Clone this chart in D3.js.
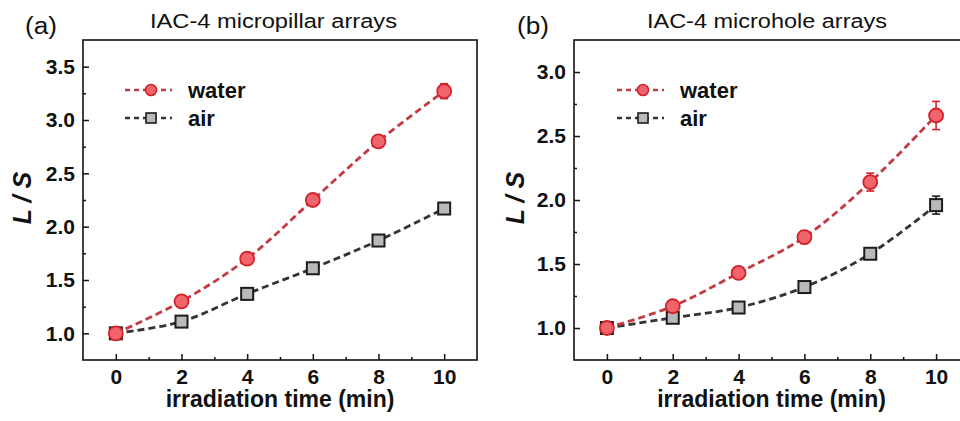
<!DOCTYPE html>
<html>
<head>
	<title>L/S vs irradiation time</title>
	<meta charset="utf-8"/>
	<script src="https://cdn.jsdelivr.net/npm/d3@7/dist/d3.min.js"></script>
	<style type="text/css">
		body { margin: 0; background: #fff; }
		svg { display: block; font-family: "Liberation Sans", Arial, sans-serif; }
	</style>
</head>
<body>
	<svg id="chart" width="960" height="421"></svg>
	<script type="text/javascript">

		// data
		var timeMin = [0, 2, 4, 6, 8, 10];

		var pillarWater    = [1.00, 1.30, 1.70, 2.25, 2.80, 3.27];
		var pillarWaterErr = [0.02, 0.02, 0.02, 0.02, 0.02, 0.07];
		var pillarAir      = [1.00, 1.11, 1.37, 1.61, 1.87, 2.17];
		var pillarAirErr   = [0.01, 0.02, 0.03, 0.02, 0.02, 0.02];

		var holeWater    = [1.00, 1.17, 1.43, 1.71, 2.14, 2.66];
		var holeWaterErr = [0.01, 0.02, 0.03, 0.05, 0.07, 0.11];
		var holeAir      = [1.00, 1.08, 1.16, 1.32, 1.58, 1.96];
		var holeAirErr   = [0.01, 0.01, 0.01, 0.02, 0.03, 0.07];

		var xTicks = [0, 2, 4, 6, 8, 10];
		var xMinor = [1, 3, 5, 7, 9];
		var pillarYTicks = [1.0, 1.5, 2.0, 2.5, 3.0, 3.5];
		var pillarYMinor = [1.25, 1.75, 2.25, 2.75, 3.25];
		var holeYTicks = [1.0, 1.5, 2.0, 2.5, 3.0];
		var holeYMinor = [1.25, 1.75, 2.25, 2.75];

		var seriesNames = ["water", "air"];

		var redLine = "#c43a42", redFill = "#f2646b", redStroke = "#d4222b";
		var greyLine = "#333333", greyFill = "#b9b9b9", greyStroke = "#1c1c1c";

		var svg = d3.select("#chart");

		drawPanel({
			left: 83, right: 477, top: 40, bottom: 360,
			yDomain: [0.75, 3.75], yTicks: pillarYTicks, yMinor: pillarYMinor,
			water: pillarWater, waterErr: pillarWaterErr,
			air: pillarAir, airErr: pillarAirErr,
			letter: "(a)", letterX: 25, title: "IAC-4 micropillar arrays", titleX: 150, titleLen: 247,
			yLabelX: 23, legendX: 125
		});

		drawPanel({
			left: 574, right: 969, top: 40, bottom: 360,
			yDomain: [0.75, 3.25], yTicks: holeYTicks, yMinor: holeYMinor,
			water: holeWater, waterErr: holeWaterErr,
			air: holeAir, airErr: holeAirErr,
			letter: "(b)", letterX: 517, title: "IAC-4 microhole arrays", titleX: 647, titleLen: 240,
			yLabelX: 516, legendX: 617
		});

		function drawPanel(p) {
			var x = d3.scaleLinear().domain([-1, 11]).range([p.left, p.right]);
			var y = d3.scaleLinear().domain(p.yDomain).range([p.bottom, p.top]);
			var g = svg.append("g");

			// inward ticks, major and minor
			g.append("g")
				.attr("transform", "translate(0," + p.bottom + ")")
				.call(d3.axisBottom(x).tickValues(xTicks).tickSize(-6).tickPadding(9).tickFormat(d3.format("d")));
			g.append("g")
				.attr("transform", "translate(0," + p.bottom + ")")
				.call(d3.axisBottom(x).tickValues(xMinor).tickSize(-3).tickFormat(""));
			g.append("g")
				.attr("transform", "translate(" + p.left + ",0)")
				.call(d3.axisLeft(y).tickValues(p.yTicks).tickSize(-6).tickPadding(8).tickFormat(d3.format(".1f")));
			g.append("g")
				.attr("transform", "translate(" + p.left + ",0)")
				.call(d3.axisLeft(y).tickValues(p.yMinor).tickSize(-3).tickFormat(""));

			g.selectAll(".domain").remove();
			g.selectAll(".tick line").attr("stroke", "#111").attr("stroke-width", 1.5);
			g.selectAll(".tick text")
				.attr("fill", "#111")
				.style("font-size", "21px")
				.style("font-weight", "bold");

			g.append("rect")
				.attr("x", p.left).attr("y", p.top)
				.attr("width", p.right - p.left).attr("height", p.bottom - p.top)
				.attr("fill", "none").attr("stroke", "#111").attr("stroke-width", 1.6);

			var series = [
				{ name: seriesNames[0], vals: p.water, err: p.waterErr, line: redLine, fill: redFill, stroke: redStroke, shape: "circle" },
				{ name: seriesNames[1], vals: p.air, err: p.airErr, line: greyLine, fill: greyFill, stroke: greyStroke, shape: "square" }
			];

			var line = d3.line()
				.x(function(d, i) { return x(timeMin[i]); })
				.y(function(d) { return y(d); })
				.curve(d3.curveCatmullRom.alpha(0.5));

			// draw air first so water sits on top
			series.slice().reverse().forEach(function(s) {
				var sg = g.append("g");
				sg.append("path")
					.attr("d", line(s.vals))
					.attr("fill", "none")
					.attr("stroke", s.line)
					.attr("stroke-width", 2.8)
					.attr("stroke-dasharray", "7,4");

				var pts = sg.selectAll("g.pt").data(s.vals).enter().append("g").attr("class", "pt");
				pts.append("line")
					.attr("x1", function(d, i) { return x(timeMin[i]); })
					.attr("x2", function(d, i) { return x(timeMin[i]); })
					.attr("y1", function(d, i) { return y(d - s.err[i]); })
					.attr("y2", function(d, i) { return y(d + s.err[i]); })
					.attr("stroke", s.stroke).attr("stroke-width", 1.6);
				[-1, 1].forEach(function(sign) {
					pts.append("line")
						.attr("x1", function(d, i) { return x(timeMin[i]) - 4; })
						.attr("x2", function(d, i) { return x(timeMin[i]) + 4; })
						.attr("y1", function(d, i) { return y(d + sign * s.err[i]); })
						.attr("y2", function(d, i) { return y(d + sign * s.err[i]); })
						.attr("stroke", s.stroke).attr("stroke-width", 1.6);
				});
				if (s.shape === "circle") {
					pts.append("circle")
						.attr("cx", function(d, i) { return x(timeMin[i]); })
						.attr("cy", function(d) { return y(d); })
						.attr("r", 7)
						.attr("fill", s.fill).attr("stroke", s.stroke).attr("stroke-width", 1.8);
				} else {
					pts.append("rect")
						.attr("x", function(d, i) { return x(timeMin[i]) - 6; })
						.attr("y", function(d) { return y(d) - 6; })
						.attr("width", 12).attr("height", 12)
						.attr("fill", s.fill).attr("stroke", s.stroke).attr("stroke-width", 2);
				}
			});

			// legend
			series.forEach(function(s, i) {
				var ly = 90 + i * 28;
				var lg = g.append("g");
				lg.append("line")
					.attr("x1", p.legendX).attr("x2", p.legendX + 47)
					.attr("y1", ly).attr("y2", ly)
					.attr("stroke", s.line).attr("stroke-width", 2.6)
					.attr("stroke-dasharray", "5,4");
				if (s.shape === "circle") {
					lg.append("circle").attr("cx", p.legendX + 26).attr("cy", ly).attr("r", 5.5)
						.attr("fill", s.fill).attr("stroke", s.stroke).attr("stroke-width", 1.6);
				} else {
					lg.append("rect").attr("x", p.legendX + 21).attr("y", ly - 5).attr("width", 10).attr("height", 10)
						.attr("fill", s.fill).attr("stroke", s.stroke).attr("stroke-width", 1.6);
				}
				lg.append("text")
					.attr("x", p.legendX + 63).attr("y", ly + 8)
					.style("font-size", "22px").style("font-weight", "bold")
					.attr("fill", "#111")
					.text(s.name);
			});

			// titles and labels
			g.append("text")
				.attr("x", p.letterX).attr("y", 34)
				.attr("textLength", 32).attr("lengthAdjust", "spacingAndGlyphs")
				.style("font-size", "23px").attr("fill", "#111")
				.text(p.letter);
			g.append("text")
				.attr("x", p.titleX).attr("y", 28)
				.attr("textLength", p.titleLen).attr("lengthAdjust", "spacingAndGlyphs")
				.style("font-size", "20px").attr("fill", "#111")
				.text(p.title);
			g.append("text")
				.attr("transform", "translate(" + (p.yLabelX + 8) + ",198) rotate(-90)")
				.attr("text-anchor", "middle")
				.style("font-size", "25px").style("font-weight", "bold").style("font-style", "italic")
				.attr("fill", "#111")
				.text("L / S");
			g.append("text")
				.attr("x", x(5)).attr("y", 407)
				.attr("text-anchor", "middle")
				.style("font-size", "23px").style("font-weight", "bold")
				.attr("fill", "#111")
				.text("irradiation time (min)");
		}
	</script>
</body>
</html>
